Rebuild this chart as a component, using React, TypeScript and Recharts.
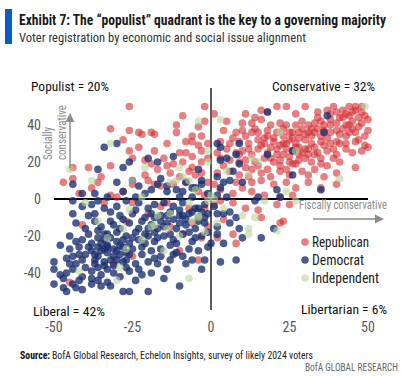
import { ScatterChart, Scatter, XAxis, YAxis, ReferenceLine } from "recharts";

type Pt = [number, number];

// Republican points
const repUpperLeft: Pt[] = [
  [-26, 50], [-2, 50], [-9, 45], [-11, 40], [-11, 36], [-32, 38], [-26, 37], [-23, 36], [-22, 35],
  [-19, 36], [-18, 35], [-6, 34], [-4, 39], [-2, 42], [-28, 32], [-14, 30], [-8, 31], [-6, 31],
  [-3, 34], [-26, 26], [-23, 28], [-18, 26], [-10, 25], [-8, 25], [-6, 23], [-3, 26], [-25, 22],
  [-21, 21], [-32, 18], [-39, 17], [-44, 17], [-14, 18], [-12, 19], [-19, 19], [-17, 16], [-47, 9],
  [-44, 11], [-36, 9], [-38, 6], [-25, 8], [-20, 10], [-16, 7], [-6, 17], [-5, 13], [-3, 20],
  [-10, 12], [-32, 2], [-28, 4], [-30, 1], [-18, 8], [-13, 14], [-7, 15], [-3, 14], [-1, 9],
  [-8, 9], [-4, 4], [-2, 2], [-21, 13], [-15, 22], [-1, 30], [-1, 22], [-4, 29], [-9, 20],
  [-12, 8], [-35, 12], [-42, 3],
];
const repUpperRight: Pt[] = [
  [1, 46], [21, 50], [24, 50], [30, 50], [16, 48], [18, 47], [39, 50], [44, 50], [46, 50], [48, 50],
  [34, 47], [37, 48], [40, 47], [42, 48], [43, 46], [45, 47], [46, 48], [49, 45], [27, 46], [5, 42],
  [10, 41], [13, 41], [16, 43], [19, 40], [22, 41], [24, 40], [29, 42], [31, 40], [33, 41], [35, 42],
  [38, 43], [41, 44], [43, 40], [45, 42], [48, 41], [50, 43],
  [8, 36], [10, 37], [13, 36], [15, 36], [18, 37], [21, 36], [23, 34], [25, 36], [28, 36], [31, 36],
  [33, 36], [36, 37], [38, 36], [41, 35], [44, 36], [46, 36], [49, 34],
  [6, 30], [9, 31], [12, 30], [15, 32], [17, 30], [20, 31], [23, 30], [25, 32], [27, 30], [30, 32],
  [32, 30], [35, 31], [38, 30], [40, 31], [43, 30], [46, 31], [49, 29], [50, 28],
  [5, 27], [8, 25], [10, 26], [13, 24], [15, 27], [18, 25], [21, 27], [23, 24], [26, 26], [29, 25],
  [31, 27], [34, 25], [37, 26], [40, 24], [43, 27], [45, 25], [48, 26],
  [3, 22], [6, 21], [9, 20], [11, 21], [14, 20], [17, 22], [20, 20], [22, 21], [25, 20], [27, 19],
  [30, 22], [32, 20], [35, 19], [39, 22], [41, 20], [46, 17],
  [6, 15], [9, 13], [13, 16], [16, 14], [19, 12], [22, 15], [25, 13], [29, 15], [31, 13], [33, 16],
  [36, 12], [40, 14], [8, 9], [13, 9], [16, 10], [20, 8], [24, 9], [27, 6], [31, 9], [35, 6], [40, 8],
  [13, 4], [17, 2], [22, 1], [26, 2],
  [20, 33], [22, 29], [24, 27], [26, 33], [28, 28], [30, 35], [32, 38], [34, 44], [36, 40], [38, 46],
  [40, 41], [42, 38], [44, 45], [35, 34], [19, 28], [17, 33], [12, 27], [11, 34], [7, 33], [4, 37],
  [3, 31], [2, 25], [4, 18], [2, 14], [1, 8], [3, 5], [7, 3], [10, 6], [12, 12], [28, 24], [27, 40],
  [14, 44], [11, 46], [47, 39], [47, 32], [50, 37],
];
const repDenseBand: Pt[] = [
  [14, 38], [16, 29], [18, 34], [19, 22], [21, 24], [23, 38], [24, 30], [25, 23], [26, 36], [27, 28],
  [28, 33], [29, 38], [30, 27], [31, 24], [32, 34], [33, 28], [34, 38], [35, 22], [36, 29], [37, 33],
  [38, 40], [39, 27], [40, 37], [41, 30], [42, 44], [43, 34], [44, 40], [45, 38], [47, 44], [48, 47],
  [22, 18], [24, 16], [26, 19], [28, 21], [33, 24], [37, 18], [11, 17], [9, 24], [15, 18], [18, 16],
];
const repLower: Pt[] = [
  [-34, -2], [-25, -2], [-16, -4], [-41, -14], [-25, -31], [-31, -35], [-45, -45], [-10, -28],
  [-4, -33], [-3, -21], [-9, -19], [-1, -15], [-7, -5], [-2, -5], [7, -2], [11, -5], [15, -6],
  [21, -3], [25, -3], [16, -10], [23, -12], [7, -19], [2, -21], [8, -24], [22, -13], [-14, -2],
  [1, -3], [4, -11], [-13, -15], [-20, -8], [-6, -13], [3, -1], [-27, -12],
];

// Democrat points
const demLowerLeft: Pt[] = [
  [-44, -1], [-41, -4], [-38, -3], [-36, -1], [-34, -5], [-30, -4], [-27, -1], [-23, -2], [-20, -5],
  [-18, -3], [-15, -2], [-12, -4], [-9, -2], [-5, -5], [-2, -3],
  [-44, -8], [-37, -8], [-32, -7], [-29, -9], [-25, -8], [-21, -10], [-19, -8], [-16, -9], [-13, -7],
  [-10, -9], [-7, -8], [-4, -10], [-1, -8],
  [-43, -13], [-40, -16], [-37, -12], [-35, -15], [-31, -14], [-29, -16], [-26, -13], [-23, -16],
  [-19, -14], [-17, -16], [-14, -13], [-11, -16], [-8, -14], [-5, -16], [-2, -13],
  [-45, -20], [-43, -23], [-39, -19], [-36, -21], [-34, -22], [-33, -19], [-30, -23], [-27, -20],
  [-23, -22], [-21, -19], [-18, -23], [-15, -20], [-12, -22], [-9, -19], [-6, -23], [-3, -20],
  [-48, -25], [-45, -27], [-42, -26], [-38, -28], [-36, -26], [-34, -27], [-33, -25], [-30, -28],
  [-28, -26], [-25, -27], [-22, -26], [-19, -28], [-16, -27], [-13, -25], [-11, -29], [-7, -27],
  [-4, -28], [-1, -26],
  [-50, -34], [-46, -32], [-43, -35], [-41, -33], [-37, -35], [-34, -34], [-31, -36], [-27, -33],
  [-24, -35], [-20, -34], [-17, -35], [-13, -33], [-8, -35],
  [-50, -38], [-46, -40], [-44, -38], [-41, -42], [-38, -39], [-35, -41], [-33, -38], [-29, -42],
  [-26, -39], [-22, -41], [-19, -40],
  [-50, -46], [-47, -48], [-44, -46], [-41, -49], [-38, -46], [-35, -47], [-33, -45], [-28, -50],
  [-26, -50], [-20, -50], [-10, -47], [-46, -50],
  [-36, -17], [-34, -19], [-32, -21], [-30, -18], [-35, -24], [-33, -29], [-31, -31], [-29, -25],
  [-27, -29], [-37, -30], [-32, -33], [-28, -22], [-26, -24], [-24, -18], [-22, -12], [-20, -16],
  [-18, -18], [-16, -12], [-14, -9], [-12, -11], [-10, -6], [-8, -11], [-6, -7], [-4, -12], [-3, -7],
  [-24, -6], [-28, -11], [-32, -12], [-39, -9], [-41, -22], [-40, -30], [-44, -31], [-48, -41],
  [-42, -44], [-38, -43], [-36, -37], [-31, -40], [-24, -44], [-16, -31], [-14, -38], [-9, -31],
  [-6, -33], [-2, -33], [-3, -38],
];
const demCluster: Pt[] = [
  [-38, -24], [-36, -31], [-34, -36], [-33, -26], [-31, -27], [-30, -33], [-29, -30], [-28, -34],
  [-27, -37], [-35, -28], [-37, -33], [-39, -26], [-40, -37], [-42, -30], [-26, -30], [-25, -21],
  [-21, -24], [-20, -20], [-18, -10], [-17, -21], [-15, -15], [-13, -19], [-11, -24], [-10, -13],
  [-9, -9], [-7, -18], [-5, -21], [-4, -5], [-2, -10], [-1, -18], [-22, -30], [-18, -32], [-12, -30],
  [-45, -35], [-47, -43], [-43, -48], [-36, -44], [-32, -47], [-23, -38], [-15, -43],
];
const demUpperLeft: Pt[] = [
  [-34, 28], [-30, 30], [-26, 20], [-28, 17], [-36, 16], [-20, 22], [-17, 20], [-12, 23], [-44, 8],
  [-41, 3], [-37, 3], [-30, 9], [-28, 4], [-25, 10], [-23, 7], [-21, 3], [-16, 11], [-14, 7],
  [-11, 5], [-8, 9], [-5, 6], [-4, 16], [-3, 10], [-1, 3], [-19, 5], [-17, 8], [-14, 4], [-9, 4],
  [-6, 6], [-3, 8], [-33, 1], [-24, 1], [-10, 1], [-6, 1],
];
const demRight: Pt[] = [
  [18, 47], [37, 45], [36, 36], [26, 26], [2, 30], [3, 28], [9, 30], [18, 24], [8, 24], [3, 21],
  [5, 22], [9, 19], [7, 15], [2, 12], [6, 10], [10, 9], [26, 13], [21, 5], [35, 5], [15, 1], [22, 1],
  [2, 2], [3, 6], [4, 9], [5, 1], [14, -1], [6, -7], [2, -8], [8, -10], [2, -15], [6, -13], [9, -16],
  [2, -19], [10, -21], [4, -24], [16, -21], [20, -16], [0, -24], [3, -34], [8, -33], [4, -8], [1, -4],
];

// Independent points
const indPoints: Pt[] = [
  [-4, 42], [-32, 30], [-38, 10], [-21, 17], [-10, 17], [-7, 10], [-1, 26], [-1, 20], [-25, 10],
  [-13, 9], [-22, 1], [3, 43], [27, 26], [22, 36], [12, 13], [41, 11], [24, 4], [15, 20], [13, 22],
  [49, 50], [-26, -6], [-36, -12], [-27, -27], [-29, -37], [-42, -39], [-7, -43], [-15, -28],
  [-22, -22], [-19, -15], [-14, -16], [-6, -12], [-4, -9], [-17, -9], [-30, -44], [4, -5], [10, -9],
  [14, -10], [12, -16], [21, -17], [27, -1], [17, -1], [12, -19], [-11, 10], [-9, 12], [-5, 5],
  [0, 2], [-7, -2], [-13, -8], [-18, -14], [2, -13], [5, 15], [-4, -10], [-45, 16], [-10, -20],
  [-2, -18], [1, 0], [-1, -1], [-40, -2], [-33, -21], [-28, -16],
];

const xTicks = [-50, -25, 0, 25, 50];
const yTicks = [-40, -20, 0, 20, 40];

const toRows = (pts: Pt[]) => pts.map(([x, y]) => ({ x, y }));

const republican = toRows([...repUpperLeft, ...repUpperRight, ...repDenseBand, ...repLower]);
const democrat = toRows([...demLowerLeft, ...demCluster, ...demUpperLeft, ...demRight]);
const independent = toRows(indPoints);

const FONT = "'Liberation Sans Narrow', 'Roboto Condensed', Roboto, sans-serif";

const dot = (fill: string, opacity: number) => (props: any) =>
  <circle cx={props.cx} cy={props.cy} r={3.8} fill={fill} fillOpacity={opacity} />;

export default function App() {
  return (
    <div style={{ position: "absolute", left: 0, top: 0, width: 408, height: 376, background: "#fff", overflow: "hidden" }}>
      <ScatterChart width={408} height={376} margin={{ top: 88, right: 40, bottom: 46, left: 24 }}>
        <XAxis
          type="number"
          dataKey="x"
          domain={[-50, 50]}
          ticks={xTicks}
          axisLine={false}
          tickLine={false}
          height={20}
          tickMargin={6}
          tick={{ fontSize: 14, fill: "#595959", fontFamily: FONT }}
        />
        <YAxis
          type="number"
          dataKey="y"
          domain={[-60, 60]}
          ticks={yTicks}
          axisLine={false}
          tickLine={false}
          width={30}
          tickMargin={7}
          tick={{ fontSize: 14, fill: "#595959", fontFamily: FONT }}
        />
        <ReferenceLine segment={[{ x: -50, y: 0 }, { x: 50, y: 0 }]} stroke="#000" strokeWidth={2} />
        <ReferenceLine x={0} stroke="#000" strokeWidth={1.3} />
        <Scatter data={republican} shape={dot("#d42a2f", 0.6)} isAnimationActive={false} />
        <Scatter data={democrat} shape={dot("#1a2d6e", 0.78)} isAnimationActive={false} />
        <Scatter data={independent} shape={dot("#b5d39a", 0.6)} isAnimationActive={false} />
      </ScatterChart>

      <svg width={408} height={376} style={{ position: "absolute", left: 0, top: 0, pointerEvents: "none" }} fontFamily={FONT}>
        <rect x={5} y={9} width={7} height={35} fill="#0a5cc7" />
        <text x={19} y={25} fontSize={14} fontWeight="bold" fill="#1a1a1a" textLength={367} lengthAdjust="spacingAndGlyphs">
          Exhibit 7: The “populist” quadrant is the key to a governing majority
        </text>
        <text x={19} y={42} fontSize={13} fill="#333" textLength={287} lengthAdjust="spacingAndGlyphs">
          Voter registration by economic and social issue alignment
        </text>

        <text x={31} y={91} fontSize={13} fill="#111" textLength={78} lengthAdjust="spacingAndGlyphs">Populist = 20%</text>
        <text x={272} y={91} fontSize={13} fill="#111" textLength={103} lengthAdjust="spacingAndGlyphs">Conservative = 32%</text>
        <text x={33} y={316} fontSize={13} fill="#111" textLength={72} lengthAdjust="spacingAndGlyphs">Liberal = 42%</text>
        <text x={301} y={314} fontSize={13} fill="#111" textLength={86} lengthAdjust="spacingAndGlyphs">Libertarian = 6%</text>

        <text x={299} y={209} fontSize={13} fill="#8c8c8c" textLength={88} lengthAdjust="spacingAndGlyphs">Fiscally conservative</text>
        <line x1={313} y1={219} x2={376} y2={219} stroke="#8c8c8c" strokeWidth={1.5} />
        <polygon points="375,214.5 384,219 375,223.5" fill="#8c8c8c" />

        <text transform="rotate(-90 52 160)" x={52} y={160} fontSize={12.5} fill="#8c8c8c" textLength={33} lengthAdjust="spacingAndGlyphs">Socially</text>
        <text transform="rotate(-90 66 160)" x={66} y={160} fontSize={12.5} fill="#8c8c8c" textLength={55} lengthAdjust="spacingAndGlyphs">conservative</text>
        <line x1={70} y1={168} x2={70} y2={121} stroke="#8c8c8c" strokeWidth={1.5} />
        <polygon points="65.5,122 70,113 74.5,122" fill="#8c8c8c" />

        <circle cx={305} cy={242} r={3.8} fill="#d42a2f" fillOpacity={0.6} />
        <text x={312} y={246.5} fontSize={14} fill="#222" textLength={57} lengthAdjust="spacingAndGlyphs">Republican</text>
        <circle cx={305} cy={260} r={3.8} fill="#1a2d6e" fillOpacity={0.78} />
        <text x={312} y={264.5} fontSize={14} fill="#222" textLength={52} lengthAdjust="spacingAndGlyphs">Democrat</text>
        <circle cx={305} cy={278} r={3.8} fill="#b5d39a" fillOpacity={0.6} />
        <text x={312} y={282.5} fontSize={14} fill="#222" textLength={67} lengthAdjust="spacingAndGlyphs">Independent</text>

        <text x={20} y={359} fontSize={11} fontWeight="bold" fill="#111" textLength={30} lengthAdjust="spacingAndGlyphs">Source:</text>
        <text x={52} y={359} fontSize={11} fill="#222" textLength={261} lengthAdjust="spacingAndGlyphs">
          BofA Global Research, Echelon Insights, survey of likely 2024 voters
        </text>
        <text x={305} y={371} fontSize={10} fill="#666" textLength={93} lengthAdjust="spacingAndGlyphs">BofA GLOBAL RESEARCH</text>
      </svg>
    </div>
  );
}
